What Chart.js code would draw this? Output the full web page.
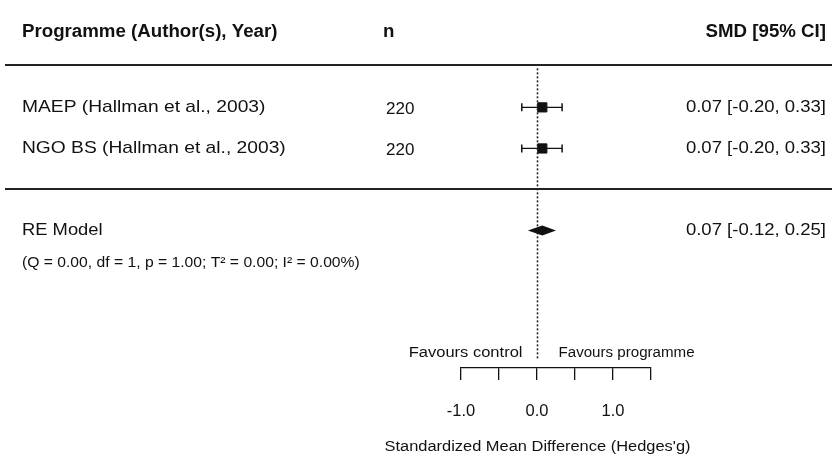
<!DOCTYPE html>
<html>
<head>
<meta charset="utf-8">
<script src="https://cdn.jsdelivr.net/npm/chart.js@4.4.1/dist/chart.umd.min.js"></script>
<style>
  body { margin: 0; background: #fff; }
  #wrap { width: 832px; height: 462px; }
</style>
</head>
<body>
<div id="wrap"><canvas id="forest" width="832" height="462"></canvas></div>
<script>
// study rows
const studies = ['MAEP (Hallman et al., 2003)', 'NGO BS (Hallman et al., 2003)'];
const sampleSizes = [220, 220];
const smd = [0.07, 0.07];
const ciLower = [-0.20, -0.20];
const ciUpper = [0.33, 0.33];

// pooled random-effects estimate
const pooledLabel = 'RE Model';
const pooledSmd = [0.07];
const pooledLower = [-0.12];
const pooledUpper = [0.25];
const heterogeneity = '(Q = 0.00, df = 1, p = 1.00; T\u00b2 = 0.00; I\u00b2 = 0.00%)';

// axis
const xTicks = [-1.0, -0.5, 0.0, 0.5, 1.0, 1.5];
const xTickLabels = ['-1.0', '', '0.0', '', '1.0', ''];
const xTitle = "Standardized Mean Difference (Hedges'g)";
const favours = ['Favours control', 'Favours programme'];
const headers = ['Programme (Author(s), Year)', 'n', 'SMD [95% CI]'];

const INK = '#111';
const FONT = '"Liberation Sans", Arial, sans-serif';
Chart.defaults.font.family = FONT;
Chart.defaults.color = INK;

const fmt = (v) => v.toFixed(2);
const pooledRow = studies.length + 1;

function text(ctx, str, x, y, font, align, sx) {
  ctx.save();
  ctx.font = font;
  ctx.fillStyle = INK;
  ctx.textAlign = align;
  ctx.textBaseline = 'middle';
  ctx.translate(x, y);
  ctx.scale(sx || 1, 1);
  ctx.fillText(str, 0, 0);
  ctx.restore();
}

const forestPlugin = {
  id: 'forest',
  afterDraw(chart) {
    const ctx = chart.ctx;
    const xs = chart.scales.x;
    const ys = chart.scales.y;
    const area = chart.chartArea;

    // rules
    ctx.save();
    ctx.strokeStyle = '#222';
    ctx.lineWidth = 2;
    [-1.03, studies.length - 0.02].forEach((r) => {
      const y = Math.round(ys.getPixelForValue(r));
      ctx.beginPath();
      ctx.moveTo(5, y);
      ctx.lineTo(832, y);
      ctx.stroke();
    });

    // no-effect line
    ctx.lineWidth = 1.6;
    ctx.setLineDash([2, 2]);
    const x0 = Math.round(xs.getPixelForValue(0)) + 0.5;
    ctx.beginPath();
    ctx.moveTo(x0, ys.getPixelForValue(-0.95));
    ctx.lineTo(x0, area.bottom - 8);
    ctx.stroke();
    ctx.setLineDash([]);

    // pooled diamond
    const yp = ys.getPixelForValue(pooledRow);
    ctx.fillStyle = INK;
    ctx.beginPath();
    ctx.moveTo(xs.getPixelForValue(pooledLower[0]), yp);
    ctx.lineTo(xs.getPixelForValue(pooledSmd[0]), yp - 5);
    ctx.lineTo(xs.getPixelForValue(pooledUpper[0]), yp);
    ctx.lineTo(xs.getPixelForValue(pooledSmd[0]), yp + 5);
    ctx.closePath();
    ctx.fill();
    ctx.restore();

    // header
    const hy = ys.getPixelForValue(-1.84);
    const hf = 'bold 18.7px ' + FONT;
    text(ctx, headers[0], 22, hy, hf, 'left');
    text(ctx, headers[1], 383, hy, hf, 'left');
    text(ctx, headers[2], 826, hy, hf, 'right');

    // study rows
    const rf = '17px ' + FONT;
    studies.forEach((s, i) => {
      const y = ys.getPixelForValue(i);
      text(ctx, s, 22, y, rf, 'left', 1.13);
      text(ctx, String(sampleSizes[i]), 386, y + 2, rf, 'left', 1.0);
      text(ctx, fmt(smd[i]) + ' [' + fmt(ciLower[i]) + ', ' + fmt(ciUpper[i]) + ']', 826, y, rf, 'right', 1.09);
    });

    // pooled row
    text(ctx, pooledLabel, 22, yp, rf, 'left', 1.08);
    text(ctx, fmt(pooledSmd[0]) + ' [' + fmt(pooledLower[0]) + ', ' + fmt(pooledUpper[0]) + ']', 826, yp, rf, 'right', 1.09);
    text(ctx, heterogeneity, 22, yp + 33, '14px ' + FONT, 'left', 1.12);

    // favours labels
    const fy = area.bottom - 15;
    text(ctx, favours[0], x0 - 15, fy, '14px ' + FONT, 'right', 1.18);
    text(ctx, favours[1], x0 + 21, fy, '14px ' + FONT, 'left', 1.08);

    // axis title
    text(ctx, xTitle, x0, 447, '15.5px ' + FONT, 'center', 1.06);
  }
};

// whiskers drawn as two-point lines with vertical caps
const whiskers = studies.map((s, i) => ({
  type: 'line',
  data: [{ x: ciLower[i], y: i }, { x: ciUpper[i], y: i }],
  borderColor: INK,
  borderWidth: 1.3,
  pointStyle: 'line',
  rotation: 90,
  pointRadius: 4,
  pointBorderWidth: 1.5,
  pointBorderColor: INK,
  clip: false
}));

const squares = {
  type: 'scatter',
  data: smd.map((v, i) => ({ x: v, y: i })),
  pointStyle: 'rect',
  pointRadius: 6.5,
  backgroundColor: INK,
  borderColor: INK,
  clip: false
};

new Chart(document.getElementById('forest'), {
  type: 'scatter',
  data: { datasets: whiskers.concat([squares]) },
  options: {
    responsive: false,
    devicePixelRatio: 1,
    animation: false,
    layout: { padding: { left: 461, right: 181, top: 0, bottom: 0 } },
    plugins: { legend: { display: false }, tooltip: { enabled: false } },
    scales: {
      x: {
        type: 'linear',
        min: xTicks[0],
        max: xTicks[xTicks.length - 1],
        afterBuildTicks: (axis) => { axis.ticks = xTicks.map((v) => ({ value: v })); },
        afterFit: (axis) => { axis.height = 94; },
        ticks: {
          autoSkip: false,
          maxRotation: 0,
          padding: 22,
          font: { size: 16.5 },
          color: INK,
          callback: (v) => xTickLabels[xTicks.indexOf(v)]
        },
        grid: { drawOnChartArea: false, tickLength: 12, color: INK, lineWidth: 1.3 },
        border: { display: true, color: INK, width: 1.3 }
      },
      y: {
        type: 'linear',
        display: false,
        reverse: true,
        min: -2.431,
        max: 6.344
      }
    }
  },
  plugins: [forestPlugin]
});
</script>
</body>
</html>
